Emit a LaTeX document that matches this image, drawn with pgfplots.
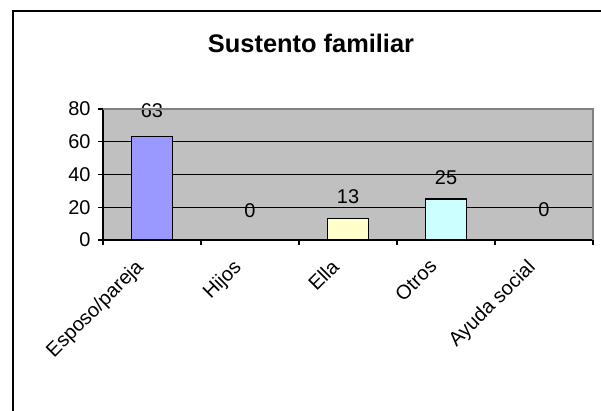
\documentclass[border=0pt]{standalone}
\usepackage{pgfplots}
\pgfplotsset{compat=1.18}
\usepackage{fontspec}
\setmainfont{Liberation Sans}
\definecolor{plotbg}{HTML}{C0C0C0}
\definecolor{bordgray}{HTML}{808080}
\definecolor{barblue}{HTML}{9999FF}
\definecolor{baryellow}{HTML}{FFFFCC}
\definecolor{barcyan}{HTML}{CCFFFF}
\begin{document}
\begin{tikzpicture}
\path[use as bounding box] (0,0) rectangle (601bp,411bp);
\draw[line width=2bp] (13bp,0) -- (13bp,400bp) -- (601bp,400bp);
\node[font=\bfseries\fontsize{25.5}{30}\selectfont] at (311bp,368bp) {Sustento familiar};
\begin{axis}[
  at={(103bp,171bp)}, anchor=south west,
  scale only axis, width=490bp, height=131bp,
  xmin=-0.5, xmax=4.5, ymin=0, ymax=80,
  ytick={0,20,40,60,80},
  xtick={-0.5,0.5,1.5,2.5,3.5,4.5},
  xticklabels={},
  extra x ticks={0,1,2,3,4},
  extra x tick labels={Esposo/pareja,Hijos,Ella,Otros,Ayuda social},
  extra x tick style={major tick length=0pt, tick label style={xshift=-18bp, yshift=-13bp, rotate=45, anchor=north east}},
  extra y ticks={20,40,60},
  extra y tick labels={},
  extra y tick style={major tick length=0pt, ymajorgrids=true},
  grid style={black, line width=1.3bp},
  axis x line*=bottom, axis y line*=left,
  axis line style={black, line width=1.3bp, -},
  tick style={black, line width=1.3bp},
  tick align=outside, major tick length=5bp,
  axis background/.style={fill=plotbg},
  ticklabel style={font=\fontsize{20}{24}\selectfont},
  yticklabel style={xshift=-4bp},
  /pgf/number format/assume math mode=true,
  after end axis/.code={\draw[bordgray, line width=1.3bp] (rel axis cs:0,1) -- (rel axis cs:1,1) -- (rel axis cs:1,0);},
  every node near coord/.append style={font=\fontsize{20}{24}\selectfont, anchor=center},
]
\addplot[ybar, bar width=0.42, bar shift=0pt, fill=barblue, draw=black, line width=1.3bp, nodes near coords, every node near coord/.append style={yshift=26bp}] coordinates {(0,63)};
\addplot[ybar, bar width=0.42, bar shift=0pt, fill=none, draw=none, nodes near coords, every node near coord/.append style={yshift=29bp}] coordinates {(1,0)};
\addplot[ybar, bar width=0.42, bar shift=0pt, fill=baryellow, draw=black, line width=1.3bp, nodes near coords, every node near coord/.append style={yshift=22bp}] coordinates {(2,13)};
\addplot[ybar, bar width=0.42, bar shift=0pt, fill=barcyan, draw=black, line width=1.3bp, nodes near coords, every node near coord/.append style={yshift=21bp}] coordinates {(3,25)};
\addplot[ybar, bar width=0.42, bar shift=0pt, fill=none, draw=none, nodes near coords, every node near coord/.append style={yshift=30bp}] coordinates {(4,0)};
\end{axis}
\end{tikzpicture}
\end{document}
